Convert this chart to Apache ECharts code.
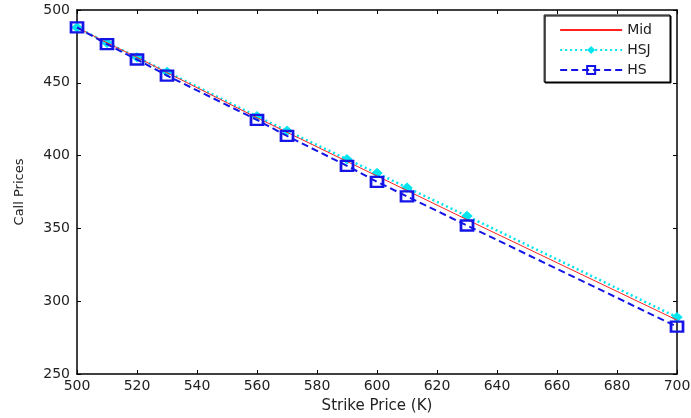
<!DOCTYPE html>
<html><head><meta charset="utf-8">
<script src="https://cdn.jsdelivr.net/npm/echarts@6/dist/echarts.min.js"></script>
<style>html,body{margin:0;padding:0;background:#fff}#c{width:691px;height:418px}</style>
</head><body><div id="c"></div>
<script>
const strikes = [500, 510, 520, 530, 560, 570, 590, 600, 610, 630, 700];
const midPrices = [488, 477.5, 467.5, 457, 426, 416, 396, 386, 376, 356, 287];
const hsjPrices = [488, 477.5, 467.5, 457.5, 427, 417, 397.5, 388, 378, 358.5, 289];
const hsPrices = [488, 476.5, 466, 455, 424.5, 413.5, 393, 382, 372, 352, 282.5];
const xTicks = [500, 520, 540, 560, 580, 600, 620, 640, 660, 680, 700];
const yTicks = [250, 300, 350, 400, 450, 500];

const pair = (xs, ys) => xs.map((x, i) => [x, ys[i]]);
const font = 'DejaVu Sans, sans-serif';
const chart = echarts.init(document.getElementById('c'));
const baseX = {
  type: 'value', min: 500, max: 700, interval: 20,
  axisLine: { show: true, lineStyle: { color: '#000', width: 1.5 } },
  axisTick: { show: true, inside: true, length: 4, lineStyle: { color: '#000' } },
  splitLine: { show: false }
};
const baseY = {
  type: 'value', min: 250, max: 500, interval: 50,
  axisLine: { show: true, lineStyle: { color: '#000', width: 1.5 } },
  axisTick: { show: true, inside: true, length: 4, lineStyle: { color: '#000' } },
  splitLine: { show: false }
};
chart.setOption({
  animation: false,
  backgroundColor: '#fff',
  grid: { left: 77, right: 14, top: 10, bottom: 44, containLabel: false, outerBoundsMode: 'none' },
  xAxis: [
    Object.assign({}, baseX, {
      position: 'bottom',
      name: 'Strike Price (K)', nameLocation: 'middle', nameGap: 25,
      nameTextStyle: { fontFamily: font, fontSize: 15, color: '#222' },
      axisLabel: { fontFamily: font, fontSize: 14, color: '#222', margin: 5,
        formatter: v => xTicks.includes(v) ? String(v) : '' }
    }),
    Object.assign({}, baseX, { position: 'top', axisLabel: { show: false } })
  ],
  yAxis: [
    Object.assign({}, baseY, {
      position: 'left',
      name: 'Call Prices', nameLocation: 'middle', nameGap: 51,
      nameTextStyle: { fontFamily: font, fontSize: 13, color: '#222' },
      axisLabel: { fontFamily: font, fontSize: 14, color: '#222', margin: 7,
        formatter: v => yTicks.includes(v) ? String(v) : '' }
    }),
    Object.assign({}, baseY, { position: 'right', axisLabel: { show: false } })
  ],
  legend: {
    orient: 'vertical', right: 21, top: 15,
    backgroundColor: '#fff',
    borderColor: '#000', borderWidth: 1,
    shadowColor: '#000', shadowOffsetX: 1, shadowOffsetY: 1, shadowBlur: 0,
    padding: [8, 18, 5, 15],
    itemWidth: 62, itemHeight: 10, itemGap: 6,
    textStyle: { fontFamily: font, fontSize: 14, color: '#222' },
    data: [
      { name: 'Mid', itemStyle: { color: 'rgba(0,0,0,0)', borderColor: 'rgba(0,0,0,0)', borderWidth: 0 } },
      'HSJ', 'HS'
    ]
  },
  series: [
    {
      name: 'Mid', type: 'line', data: pair(strikes, midPrices),
      showSymbol: false, symbol: 'none',
      lineStyle: { color: '#ff2020', width: 1 }, itemStyle: { color: '#ff2020' }, z: 3
    },
    {
      name: 'HSJ', type: 'line', data: pair(strikes, hsjPrices),
      symbol: 'diamond', symbolSize: [10, 9],
      lineStyle: { color: '#00e5ee', width: 2.5, type: [2, 3] },
      itemStyle: { color: '#00e5ee', borderColor: '#00e5ee' }, z: 2
    },
    {
      name: 'HS', type: 'line', data: pair(strikes, hsPrices),
      symbol: 'rect', symbolSize: [12, 10],
      lineStyle: { color: '#1414e6', width: 2, type: [7, 4] },
      itemStyle: { color: 'rgba(0,0,0,0)', borderColor: '#1414e6', borderWidth: 2.5 }, z: 4
    }
  ]
});
</script></body></html>
